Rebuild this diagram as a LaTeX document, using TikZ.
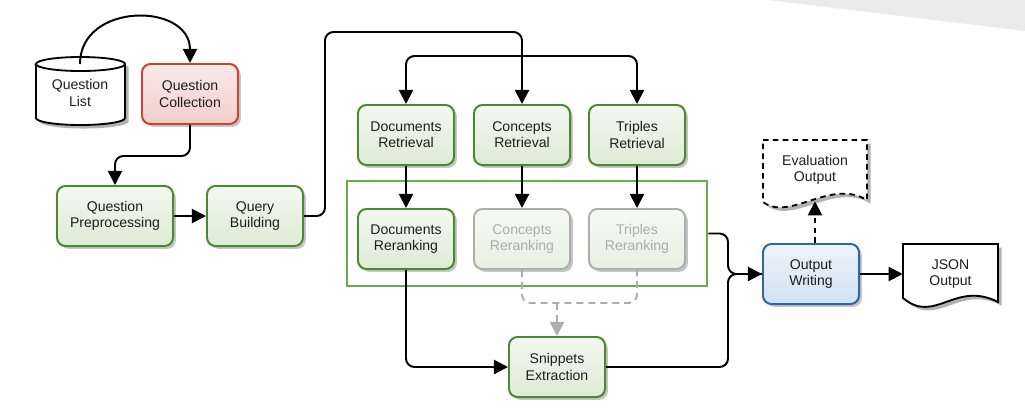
\documentclass[tikz,border=0pt]{standalone}
\usepackage{fontspec}
\setmainfont{Liberation Sans}
\usetikzlibrary{positioning,arrows.meta,shadows}

\definecolor{boxGreen}{HTML}{4A8A2C}
\definecolor{fillGreen}{HTML}{DCEBD5}
\definecolor{frameGreen}{HTML}{68AC4C}
\definecolor{boxRed}{HTML}{C9432E}
\definecolor{fillRed}{HTML}{F1CFCB}
\definecolor{boxBlue}{HTML}{2D65A6}
\definecolor{fillBlue}{HTML}{D0E1F3}
\definecolor{fadeGray}{HTML}{ADADAD}
\definecolor{textGray}{HTML}{1E1E1E}
\definecolor{cornerGray}{HTML}{EBEBEB}

\def \lineWidth {1.4pt}
\def \boxWidth {2.4cm}
\def \boxHeight {1.5cm}

\begin{document}
\begin{tikzpicture}[x=0.025cm, y=-0.025cm,
      font=\fontsize{10}{11.5}\selectfont, text=textGray,
      stage/.style={rectangle, rounded corners=6pt, line width=1.4pt, align=center,
         minimum width=\boxWidth, minimum height=\boxHeight,
         drop shadow={shadow xshift=2pt, shadow yshift=-2pt, fill=black!45, opacity=0.5}},
      greenstage/.style={stage, draw=boxGreen, top color=fillGreen!35, bottom color=fillGreen},
      fadestage/.style={stage, draw=fadeGray, text=fadeGray, top color=fillGreen!30, bottom color=fillGreen!70},
      redstage/.style={stage, draw=boxRed, top color=fillRed!45, bottom color=fillRed},
      bluestage/.style={stage, draw=boxBlue, top color=fillBlue!35, bottom color=fillBlue},
      docshape/.style={line width=1.3pt, fill=white},
      docshadow/.style={fill=black!30, draw=none, xshift=2.5pt, yshift=-2.5pt},
      wire/.style={line width=\lineWidth, rounded corners=6pt},
      flow/.style={wire, -{Triangle[length=10pt, width=10pt]}},
      fadeflow/.style={line width=\lineWidth, rounded corners=6pt, draw=fadeGray, dash pattern=on 5pt off 3.5pt},
      evalflow/.style={flow, dash pattern=on 4pt off 3pt}]
      \useasboundingbox (0,0) rectangle (1025,410);
      \fill[cornerGray] (768,0) -- (1025,0) -- (1025,31) -- cycle;

      % question list (cylinder)
      \fill[docshadow] (36,64) -- (36,118) arc[start angle=180, end angle=360, x radius=1.1125cm, y radius=0.175cm]
         -- (125,64) arc[start angle=0, end angle=180, x radius=1.1125cm, y radius=0.175cm] -- cycle;
      \filldraw[docshape] (36,64) -- (36,118) arc[start angle=180, end angle=360, x radius=1.1125cm, y radius=0.175cm]
         -- (125,64) arc[start angle=0, end angle=180, x radius=1.1125cm, y radius=0.175cm] -- cycle;
      \draw[line width=1.3pt] (36,64) arc[start angle=180, end angle=360, x radius=1.1125cm, y radius=0.175cm];
      \node[align=center] (qlist) at (80,93) {Question\\List};
      \coordinate (qlisttop) at (80,64);

      \node[redstage] (qcoll) at (190,94) {Question\\Collection};
      \node[greenstage, minimum width=2.9cm] (qprep) at (115,216) {Question\\Preprocessing};
      \node[greenstage] (qbuild) at (255,216) {Query\\Building};

      \node[greenstage] (dret) at (406,135) {Documents\\Retrieval};
      \node[greenstage] (cret) at (522,135) {Concepts\\Retrieval};
      \node[greenstage] (tret) at (637,135) {Triples\\Retrieval};

      \node[draw=frameGreen, line width=2pt, minimum width=9cm, minimum height=2.625cm] (rerank) at (527,233.5) {};
      \node[greenstage] (drer) at (406,239) {Documents\\Reranking};
      \node[fadestage] (crer) at (522,239) {Concepts\\Reranking};
      \node[fadestage] (trer) at (637,239) {Triples\\Reranking};

      \node[greenstage] (snip) at (557,367) {Snippets\\Extraction};
      \node[bluestage] (owrite) at (811,274) {Output\\Writing};

      % output documents
      \fill[docshadow] (903,244) -- (998,244) -- (998,302) .. controls (955,280) and (935,325) .. (903,298) -- cycle;
      \filldraw[docshape] (903,244) -- (998,244) -- (998,302) .. controls (955,280) and (935,325) .. (903,298) -- cycle;
      \node[align=center, minimum width=2.375cm] (json) at (950.5,274) {JSON\\Output};

      \fill[docshadow] (763,140) -- (867,140) -- (867,200) .. controls (830,178) and (790,222) .. (763,202) -- cycle;
      \filldraw[docshape, dash pattern=on 4pt off 3pt] (763,140) -- (867,140) -- (867,200) .. controls (830,178) and (790,222) .. (763,202) -- cycle;
      \node[align=center, minimum width=2.6cm, minimum height=1.55cm] (evalout) at (815,170) {Evaluation\\Output};

      % connectors
      \coordinate (bend) at (325,32);
      \coordinate (split) at (522,56);
      \coordinate (merge) at (557,303);
      \coordinate (join) at (728,274);
      \draw[flow] (qlisttop) .. controls (80,2) and (190,2) .. (qcoll.north);
      \draw[flow] (qcoll.south) -- ++(0,31) -| (qprep.north);
      \draw[flow] (qprep) -- (qbuild);
      \draw[flow] (qbuild.east) -| (bend) -| (cret.north);
      \draw[flow] (split) -| (dret.north);
      \draw[flow] (split) -| (tret.north);
      \draw[flow] (dret) -- (drer);
      \draw[flow] (cret) -- (crer);
      \draw[flow] (tret) -- (trer);
      \draw[fadeflow] (crer.south) |- (merge) -| (trer.south);
      \draw[fadeflow, -{Triangle[length=10pt, width=10pt]}] (merge) -- (snip.north);
      \draw[flow] (drer.south) |- (snip.west);
      \draw[wire] (snip.east) -| (join) -- (owrite.west);
      \draw[flow] (rerank.east) -| (join) -- (owrite.west);
      \draw[flow] (owrite) -- (json);
      \draw[evalflow] (owrite.north -| evalout) -- (evalout.south);
   \end{tikzpicture}
\end{document}
